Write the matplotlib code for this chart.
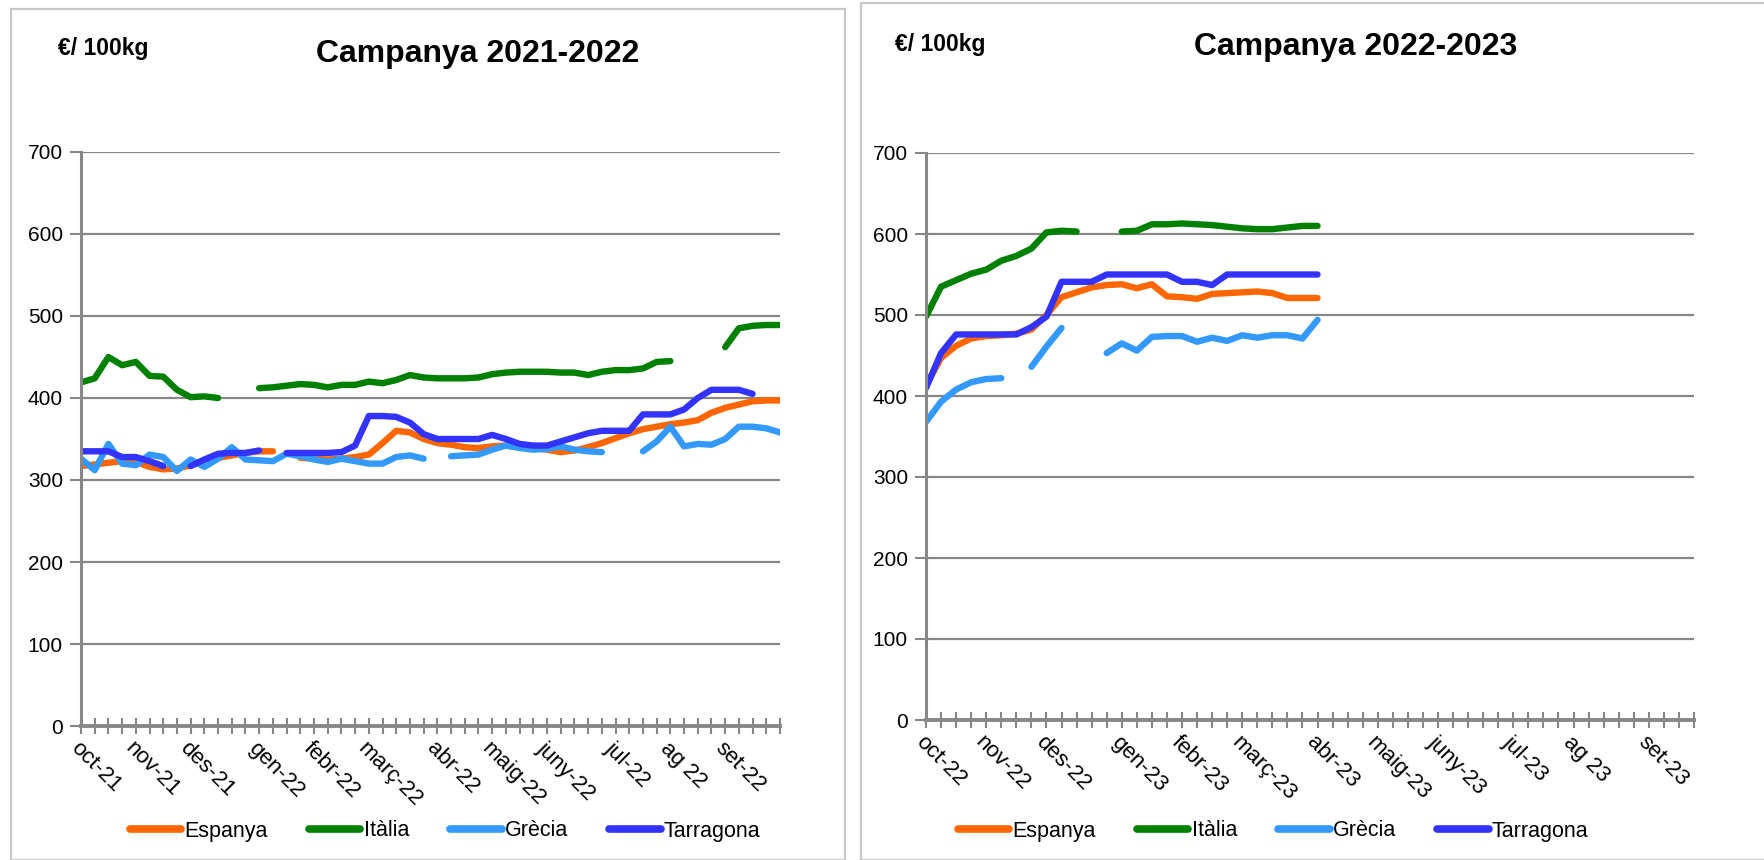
import numpy as np
import matplotlib.pyplot as plt
from matplotlib.patches import Rectangle
from matplotlib.lines import Line2D

plt.rcParams['font.family'] = ['Liberation Sans', 'DejaVu Sans']

# weekly prices, EUR / 100 kg (None = no quote that week)
n = None
weeks = list(range(52))

# Campanya 2021-2022
labels_2122 = {0: 'oct-21', 4: 'nov-21', 8: 'des-21', 13: 'gen-22', 17: 'febr-22', 21: 'març-22',
               26: 'abr-22', 30: 'maig-22', 34: 'juny-22', 39: 'jul-22', 43: 'ag 22', 47: 'set-22'}
espanya_2122 = [317, 319, 321, 323, 322, 316, 313, 314, 318, 322, 327, 330, 333, 335, 335, n,
                327, 326, 325, 326, 328, 331, 345, 360, 358, 350, 345, 343, 340, 339, 341, 342,
                340, 339, 337, 334, 336, 340, 345, 351, 357, 362, 365, 368, 370, 373, 382, 388,
                392, 396, 397, 397]
italia_2122 = [419, 424, 450, 440, 444, 427, 426, 410, 401, 402, 400, n, n, 412, 413, 415,
               417, 416, 413, 416, 416, 420, 418, 422, 428, 425, 424, 424, 424, 425, 429, 431,
               432, 432, 432, 431, 431, 428, 432, 434, 434, 436, 444, 445, n, n,
               n, 462, 485, 488, 489, 489]
grecia_2122 = [326, 312, 344, 320, 318, 331, 328, 311, 325, 316, 326, 340, 325, 324, 323, 332,
               329, 325, 322, 326, 323, 320, 320, 328, 330, 326, n, 329, 330, 331, 337, 342,
               339, 337, 338, 341, 337, 335, 334, n, n, 335, 347, 365, 341, 344, 343, 350,
               365, 365, 363, 358]
tarragona_2122 = [335, 335, 335, 328, 328, 323, 317, n, 317, 325, 332, 333, 333, 336, n, 333,
                  333, 333, 333, 334, 342, 378, 378, 377, 370, 356, 350, 350, 350, 350, 355, 350,
                  344, 342, 342, 347, 352, 357, 360, 360, 360, 380, 380, 380, 386, 400, 410, 410,
                  410, 405, n, n]

# Campanya 2022-2023
labels_2223 = {0: 'oct-22', 4: 'nov-22', 8: 'des-22', 13: 'gen-23', 17: 'febr-23', 21: 'març-23',
               26: 'abr-23', 30: 'maig-23', 34: 'juny-23', 39: 'jul-23', 43: 'ag 23', 48: 'set-23'}
espanya_2223 = [413, 447, 462, 471, 474, 475, 477, 482, 500, 522, 528, 534, 537, 538, 533, 538,
                523, 522, 520, 526, 527, 528, 529, 527, 521, 521, 521]
italia_2223 = [498, 535, 543, 551, 556, 567, 573, 582, 602, 604, 603, n, n, 603, 604, 612,
               612, 613, 612, 611, 609, 607, 606, 606, 608, 610, 610]
grecia_2223 = [368, 393, 408, 417, 421, 422, n, 436, 461, 484, n, n, 453, 465, 456, 473,
               474, 474, 467, 472, 468, 475, 472, 475, 475, 471, 494]
tarragona_2223 = [410, 453, 476, 476, 476, 476, 476, 485, 498, 541, 541, 541, 550, 550, 550, 550,
                  550, 541, 541, 537, 550, 550, 550, 550, 550, 550, 550]

series_names = ['Espanya', 'Itàlia', 'Grècia', 'Tarragona']
colors = ['#FF6600', '#008000', '#3399FF', '#3333FF']
GRAY = '#878787'

W, H = 1765, 860
fig = plt.figure(figsize=(W / 100, H / 100), dpi=100)

# panel frames
fig.patches.append(Rectangle((11 / W, 0), 834 / W, 1 - 9 / H, transform=fig.transFigure,
                             fill=False, ec='#C8C8C8', lw=1.6))
fig.patches.append(Rectangle((861 / W, 0), 1000 / W, 1 - 3 / H, transform=fig.transFigure,
                             fill=False, ec='#C8C8C8', lw=1.6))


def draw_panel(rect, data, labels, title, title_x, title_y, unit_x, unit_y, legend_x):
    ax = fig.add_axes(rect)
    for vals, c in zip(data, colors):
        y = np.array([np.nan if v is None else v for v in vals], dtype=float)
        ax.plot(weeks[:len(y)], y, color=c, lw=4.6, solid_capstyle='round', solid_joinstyle='round')
    ax.set_xlim(0, 51)
    ax.set_ylim(0, 700)
    ax.set_yticks(range(0, 701, 100))
    ax.yaxis.grid(True, color=GRAY, lw=1.6)
    ax.set_axisbelow(True)
    for s in ['top', 'right']:
        ax.spines[s].set_visible(False)
    ax.spines['left'].set_color(GRAY)
    ax.spines['left'].set_linewidth(2.2)
    ax.spines['bottom'].set_color(GRAY)
    ax.spines['bottom'].set_linewidth(2.8)
    ax.set_xticks(weeks)
    ax.set_xticklabels([labels.get(w, '') for w in weeks], rotation=-45, ha='left', va='top',
                       rotation_mode='anchor', fontsize=16)
    ax.tick_params(axis='x', direction='inout', length=11, width=1.5, color=GRAY, pad=3)
    ax.tick_params(axis='y', direction='out', length=8, width=1.5, color=GRAY, labelsize=15, pad=5)
    fig.text(title_x / W, 1 - title_y / H, title, ha='center', va='center',
             fontsize=23, fontweight='bold')
    fig.text(unit_x / W, 1 - unit_y / H, '€/ 100kg', ha='left', va='center',
             fontsize=16.5, fontweight='bold')
    handles = [Line2D([], [], color=c, lw=5.5, solid_capstyle='round') for c in colors]
    fig.legend(handles, series_names, loc='center', bbox_to_anchor=(legend_x / W, 1 - 831 / H),
               ncol=4, frameon=False, fontsize=15.5, handlelength=2.4, handletextpad=0.15,
               columnspacing=1.9)
    return ax


draw_panel([81 / W, (H - 726) / H, (780 - 81) / W, (726 - 152) / H],
           [espanya_2122, italia_2122, grecia_2122, tarragona_2122], labels_2122,
           'Campanya 2021-2022', 478, 54, 58, 48, 445)
draw_panel([926 / W, (H - 720) / H, (1694 - 926) / W, (720 - 153) / H],
           [espanya_2223, italia_2223, grecia_2223, tarragona_2223], labels_2223,
           'Campanya 2022-2023', 1356, 47, 895, 45, 1273)

fig.savefig('out.png', dpi=100)
